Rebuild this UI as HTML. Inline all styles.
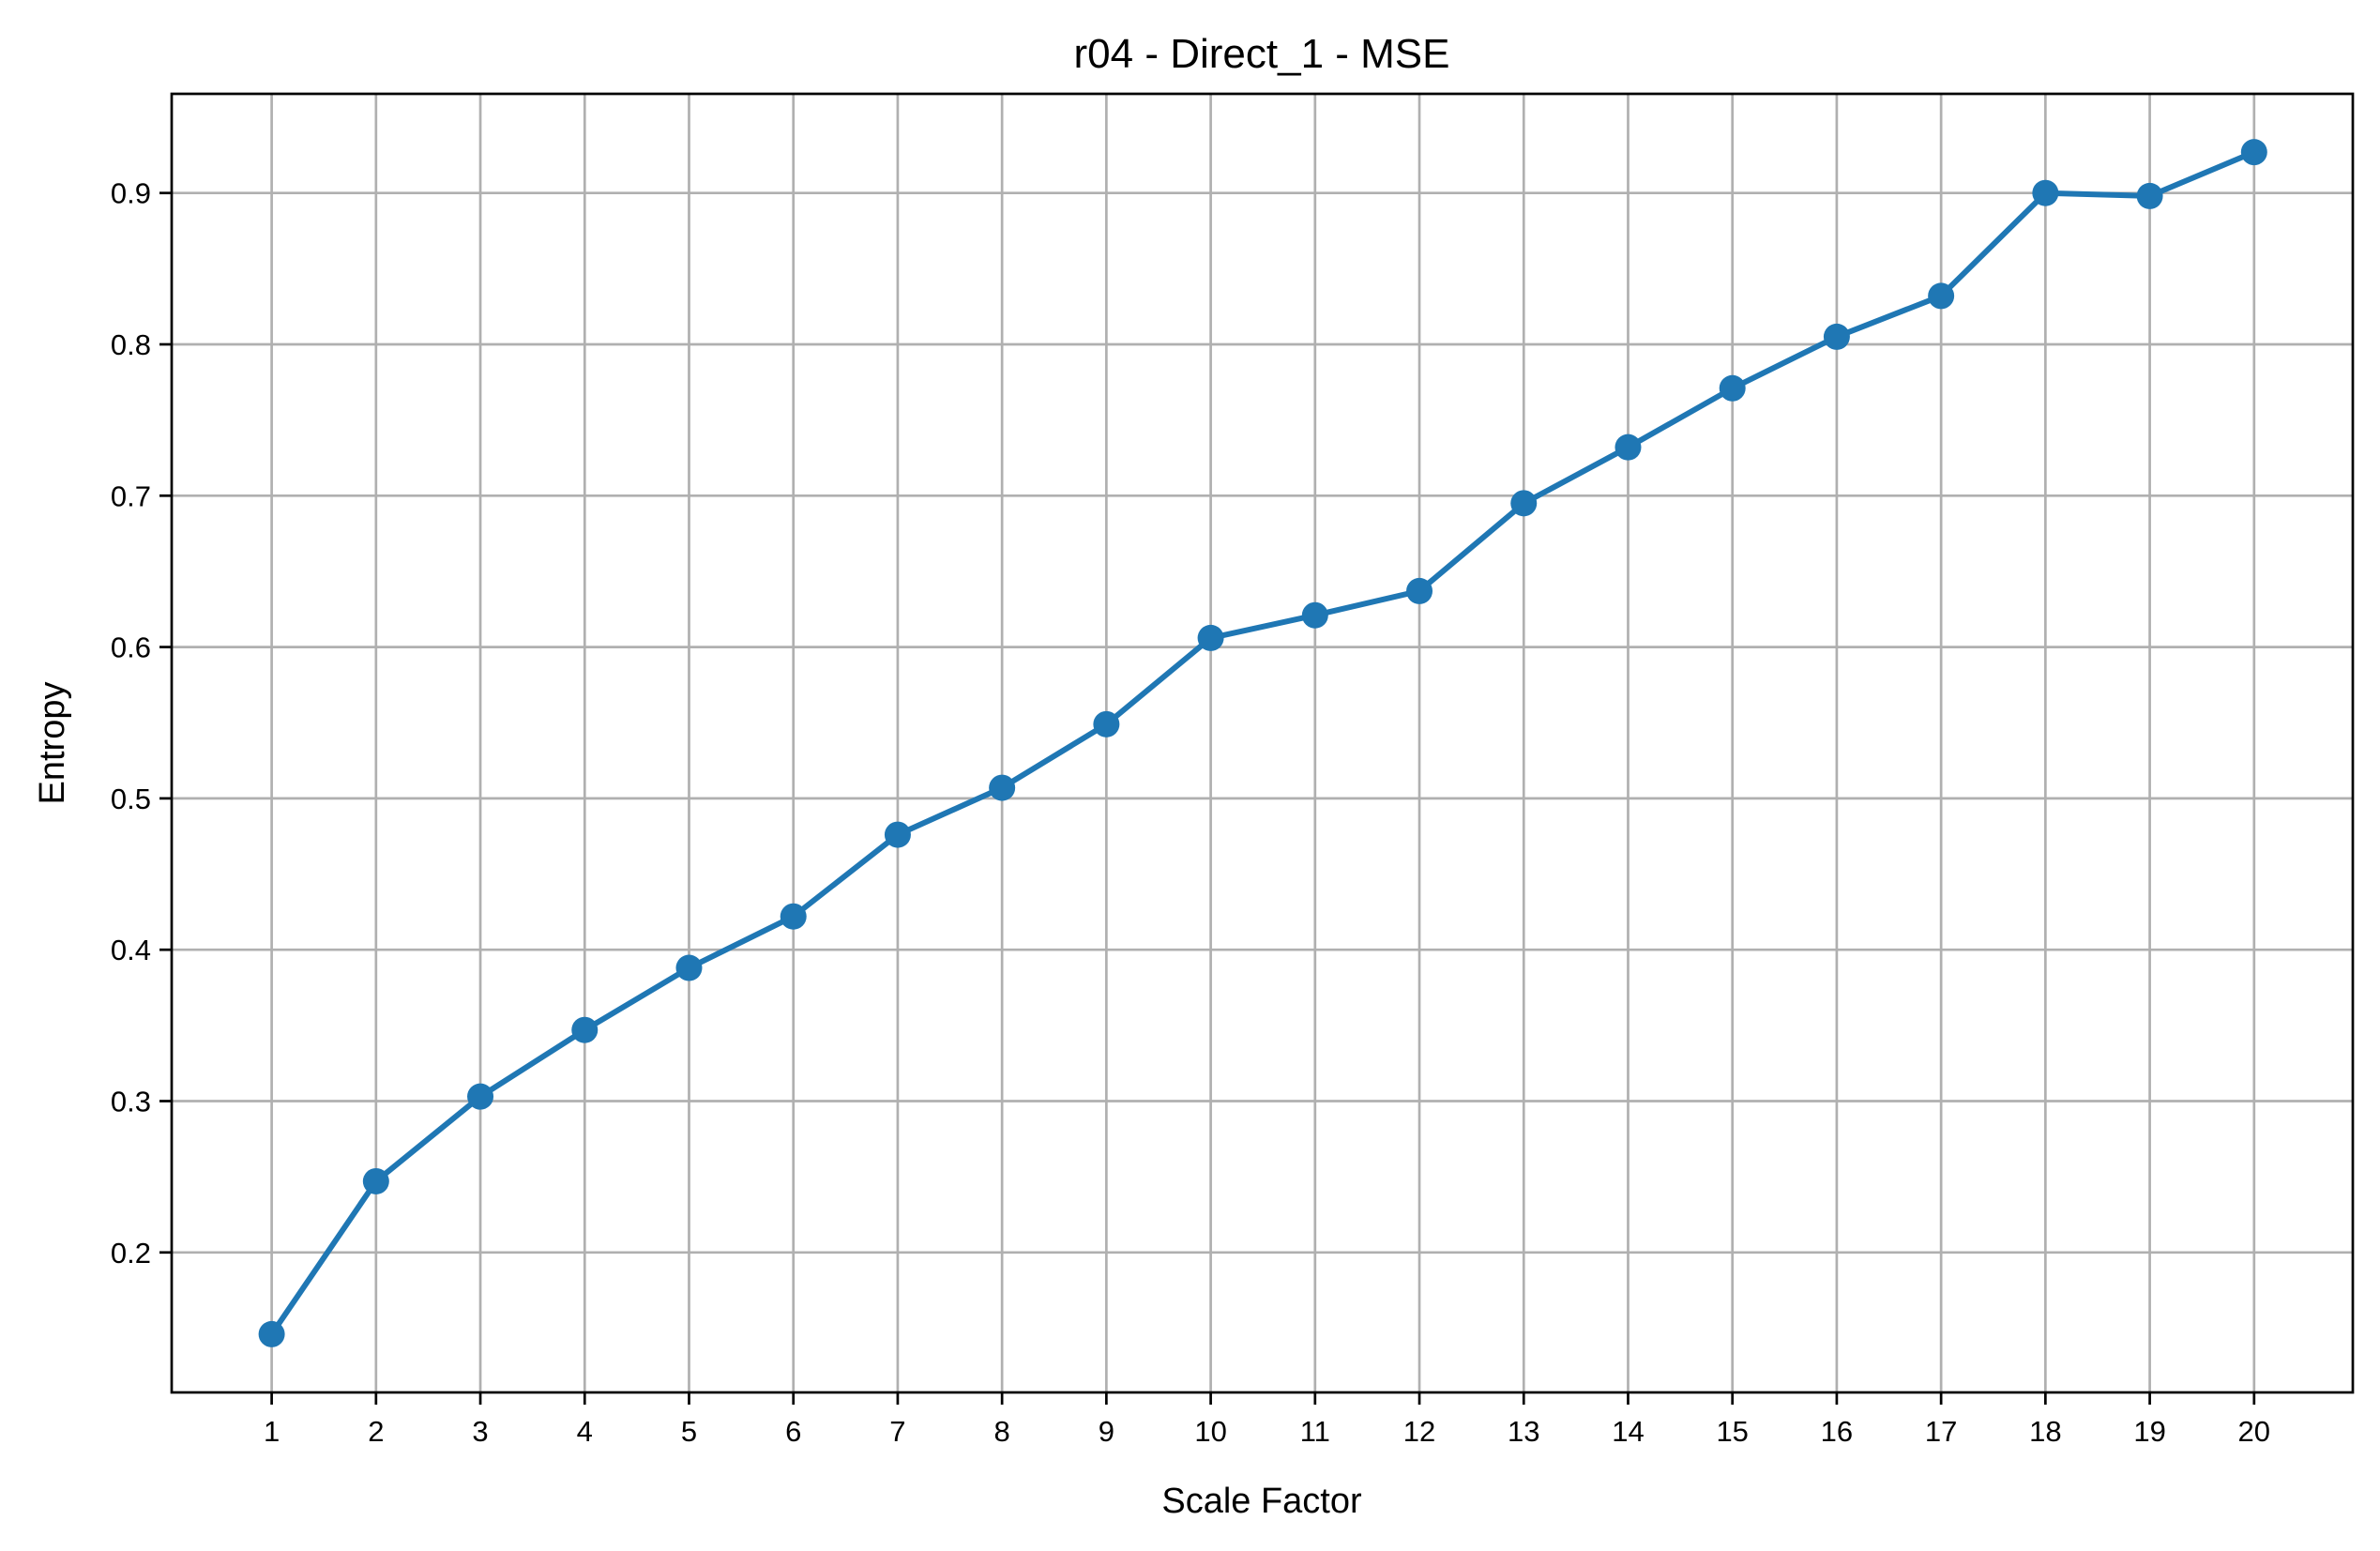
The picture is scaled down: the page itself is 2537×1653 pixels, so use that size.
<!DOCTYPE html>
<html><head><meta charset="utf-8"><style>
html,body{margin:0;padding:0;background:#fff;}
svg{display:block;font-family:"Liberation Sans","DejaVu Sans",sans-serif;}
</style></head><body>
<svg id="chart" width="2537" height="1653" viewBox="0 0 2537 1653" xmlns="http://www.w3.org/2000/svg">
<rect width="2537" height="1653" fill="#fff"/>
<g id="grid"></g>
<g id="ticks"></g>
<g id="series"></g>
<rect x="183" y="100" width="2325" height="1384" fill="none" stroke="#000" stroke-width="2.7"/>
<text x="1345" y="72" text-anchor="middle" font-size="44">r04 - Direct_1 - MSE</text>
<text x="1345" y="1612" text-anchor="middle" font-size="38">Scale Factor</text>
<text x="0" y="0" transform="translate(68,792) rotate(-90)" text-anchor="middle" font-size="38">Entropy</text>
</svg>
<script>
const categories = [1,2,3,4,5,6,7,8,9,10,11,12,13,14,15,16,17,18,19,20];
const entropyValues = [0.146,0.247,0.303,0.347,0.388,0.422,0.476,0.507,0.549,0.606,0.621,0.637,0.695,0.732,0.771,0.805,0.832,0.900,0.898,0.927];
const yTicks = [0.2,0.3,0.4,0.5,0.6,0.7,0.8,0.9];
const yTickLabels = ["0.2","0.3","0.4","0.5","0.6","0.7","0.8","0.9"];

const L=183,R=2508,T=100,B=1484;
function xs(v){return 289.6+(v-1)*(2402.8-289.6)/19;}
function ys(v){return 1334.8-(v-0.2)*1613;}
const NS="http://www.w3.org/2000/svg";
function mk(tag,attrs,parent){const e=document.createElementNS(NS,tag);for(const k in attrs)e.setAttribute(k,attrs[k]);parent.appendChild(e);return e;}
const grid=document.getElementById('grid'),ticks=document.getElementById('ticks'),series=document.getElementById('series');
categories.forEach(c=>{
  const x=xs(c);
  const g=mk('line',{x1:x,x2:x,y1:T,y2:B,stroke:'#b0b0b0','stroke-width':2.7},grid);
  
  
  const t=mk('line',{x1:x,x2:x,y1:B,y2:B+13,stroke:'#000','stroke-width':2.7},ticks);
  
  
  const lb=mk('text',{x:x,y:B+52,'text-anchor':'middle','font-size':31},ticks);
  lb.textContent=String(c);
  
  
});
yTicks.forEach((v,i)=>{
  const y=ys(v);
  const g=mk('line',{x1:L,x2:R,y1:y,y2:y,stroke:'#b0b0b0','stroke-width':2.7},grid);
  
  
  const t=mk('line',{x1:L-13,x2:L,y1:y,y2:y,stroke:'#000','stroke-width':2.7},ticks);
  
  
  const lb=mk('text',{x:L-22,y:y+11,'text-anchor':'end','font-size':31},ticks);
  lb.textContent=yTickLabels[i];
  
  
});
const pts=categories.map((c,i)=>xs(c).toFixed(1)+','+ys(entropyValues[i]).toFixed(1)).join(' ');
const line=mk('polyline',{points:pts,fill:'none',stroke:'#1f77b4','stroke-width':6,'stroke-linejoin':'round'},series);


categories.forEach((c,i)=>{
  const p=mk('circle',{cx:xs(c),cy:ys(entropyValues[i]),r:14,fill:'#1f77b4'},series);
  
  
});
</script>
</body></html>
